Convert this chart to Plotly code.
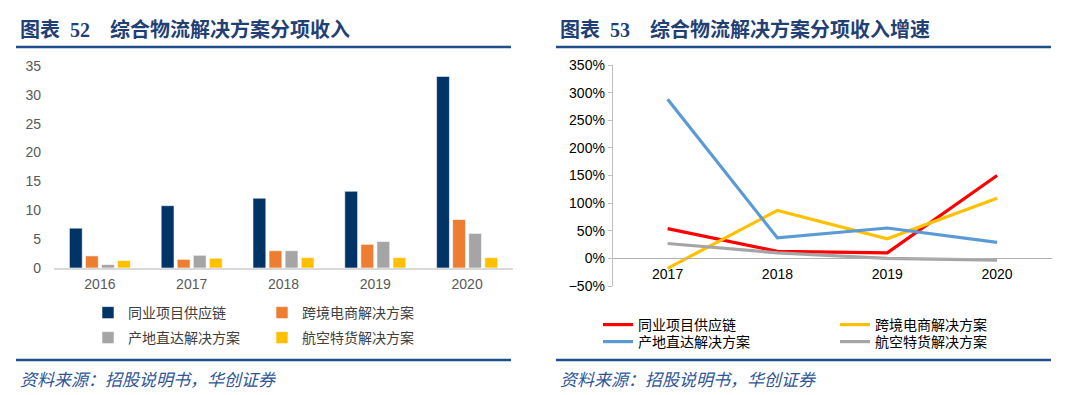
import plotly.graph_objects as go

# ---------------- data ----------------
years_bar = ['2016', '2017', '2018', '2019', '2020']
tongye_rev = [6.9, 10.8, 12.1, 13.3, 33.2]
kuajing_rev = [2.1, 1.5, 3.0, 4.1, 8.4]
chandi_rev = [0.6, 2.2, 3.0, 4.6, 6.0]
hangkong_rev = [1.3, 1.7, 1.8, 1.8, 1.8]

years_line = ['2017', '2018', '2019', '2020']
tongye_g = [0.54, 0.127, 0.10, 1.50]
kuajing_g = [-0.18, 0.87, 0.355, 1.09]
chandi_g = [2.88, 0.37, 0.55, 0.29]
hangkong_g = [0.27, 0.10, 0.0, -0.03]

names = ['同业项目供应链', '跨境电商解决方案', '产地直达解决方案', '航空特货解决方案']
bar_colors = ['#003366', '#ED7D31', '#A5A5A5', '#FFC000']
line_colors = ['#FF0000', '#FFC000', '#5B9BD5', '#A5A5A5']

title_left = '图表  52    综合物流解决方案分项收入'
title_right = '图表  53    综合物流解决方案分项收入增速'
source_text = '资料来源：招股说明书，华创证券'

W, H = 1080, 395
OFF = 8  # page body margin offset


def px(x):
    return (x - OFF) / W


def py(y):
    return 1 - (y - OFF) / H


FONT = 'Liberation Sans, Arial, Noto Sans CJK SC'
CJK = 'Noto Sans CJK SC'
BLUE = '#1F3F75'

fig = go.Figure()

# ---------- left: bars ----------
bar_series = [tongye_rev, kuajing_rev, chandi_rev, hangkong_rev]
left_legends = ['legend', 'legend2', 'legend3', 'legend4']
for name, vals, col, lg in zip(names, bar_series, bar_colors, left_legends):
    fig.add_trace(go.Bar(
        x=years_bar, y=vals, name=name, marker_color=col,
        marker_line=dict(color='white', width=0.6),
        xaxis='x', yaxis='y', legend=lg))

# ---------- right: lines ----------
line_series = [tongye_g, kuajing_g, chandi_g, hangkong_g]
right_legends = ['legend5', 'legend6', 'legend7', 'legend8']
for name, vals, col, lg in zip(names, line_series, line_colors, right_legends):
    fig.add_trace(go.Scatter(
        x=years_line, y=vals, name=name, mode='lines',
        line=dict(color=col, width=3.2),
        xaxis='x2', yaxis='y2', legend=lg))

fig.update_layout(
    width=W, height=H,
    margin=dict(l=0, r=0, t=0, b=0, pad=0, autoexpand=False),
    paper_bgcolor='white', plot_bgcolor='white',
    font=dict(family=FONT, size=14, color='#404040'),
    barmode='group', bargap=0.3, bargroupgap=0.2,
    showlegend=True,
    xaxis=dict(domain=[px(54), px(513)], anchor='y', type='category',
               showline=True, linecolor='#D9D9D9', linewidth=1.5,
               ticks='', showgrid=False, automargin=False, ticklabelstandoff=2,
               tickfont=dict(size=14, color='#595959')),
    yaxis=dict(domain=[py(268), py(66)], anchor='x', range=[0, 35], dtick=5,
               showgrid=False, zeroline=False, showline=False, ticks='',
               automargin=False,
               tickfont=dict(size=14, color='#595959'), ticklabelstandoff=12),
    xaxis2=dict(domain=[px(612.7), px(1052)], anchor='free', position=py(258.3),
                type='category', range=[-0.5, 3.5],
                showline=True, linecolor='#B0B0B0', linewidth=1,
                ticks='', showgrid=False, automargin=False, ticklabelstandoff=3,
                tickfont=dict(size=14, color='black')),
    yaxis2=dict(domain=[py(286), py(65.1)], anchor='x2', range=[-0.5, 3.5], dtick=0.5,
                tickformat='.0%', showgrid=False, zeroline=False,
                showline=True, linecolor='#BFBFBF', linewidth=1,
                ticks='outside', ticklen=4, tickcolor='#BFBFBF', automargin=False,
                tickfont=dict(size=14, color='black')),
)

# legends - left (squares)
leg_left_pos = [(88, 313), (262, 313), (88, 338), (262, 338)]
for lg, (x, y) in zip(left_legends, leg_left_pos):
    fig.update_layout({lg: dict(x=px(x), y=py(y), xanchor='left', yanchor='middle',
                                bgcolor='rgba(0,0,0,0)',
                                font=dict(family=CJK, size=14, color='#404040'))})

# legends - right (lines)
leg_right_pos = [(598, 325), (835, 325), (598, 342), (835, 342)]
for lg, (x, y) in zip(right_legends, leg_right_pos):
    fig.update_layout({lg: dict(x=px(x), y=py(y), xanchor='left', yanchor='middle',
                                bgcolor='rgba(0,0,0,0)',
                                font=dict(family=CJK, size=14, color='black'))})

# header / footer decorations
annotations = []
shapes = []
for x0, x1, title in [(16, 511, title_left), (556, 1051, title_right)]:
    annotations.append(dict(
        text='<b>' + title + '</b>', x=px(x0 + 2), y=py(30), xref='paper', yref='paper',
        xanchor='left', yanchor='middle', showarrow=False,
        font=dict(family='Liberation Serif, ' + CJK, size=20, color=BLUE)))
    annotations.append(dict(
        text='<i>' + source_text + '</i>', x=px(x0 + 2), y=py(378), xref='paper', yref='paper',
        xanchor='left', yanchor='middle', showarrow=False,
        font=dict(family=CJK, size=17, color='#2F5597')))
    for yy in (47, 360):
        shapes.append(dict(type='line', xref='paper', yref='paper',
                           x0=px(x0), x1=px(x1), y0=py(yy), y1=py(yy),
                           line=dict(color='#1F4E8C', width=2.5)))

fig.update_layout(annotations=annotations, shapes=shapes)

fig.write_html('out.html')
